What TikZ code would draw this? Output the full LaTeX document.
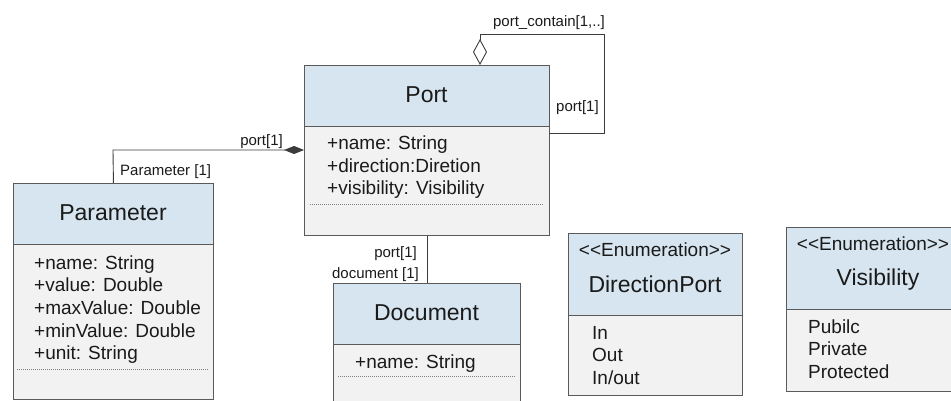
\documentclass[tikz,border=0pt]{standalone}
\usepackage{fontspec}
\setmainfont{Liberation Sans}
\usetikzlibrary{arrows.meta}
\definecolor{headblue}{HTML}{D6E5EF}
\definecolor{bodygrey}{HTML}{F2F2F2}
\definecolor{edge}{HTML}{5A5A5A}
\definecolor{ink}{HTML}{1A1A1A}
\tikzset{
  head/.style={draw=edge, fill=headblue, line width=0.9pt, inner sep=0pt, anchor=north west},
  body/.style={draw=edge, fill=bodygrey, line width=0.9pt, inner sep=0pt, anchor=north west},
  title/.style={font=\fontsize{23}{27}\selectfont, text=ink, anchor=base, inner sep=0pt},
  enum/.style={font=\fontsize{19}{22}\selectfont, text=ink, anchor=base, inner sep=0pt},
  attr/.style={font=\fontsize{19}{22}\selectfont, text=ink, anchor=base west, inner sep=0pt},
  lbl/.style={font=\fontsize{15}{18}\selectfont, text=ink, inner sep=0pt},
  sep/.style={draw=gray, line width=0.6pt, dash pattern=on 1pt off 1pt},
  conn/.style={draw=ink!85, line width=0.9pt},
}
\begin{document}
\begin{tikzpicture}[x=1pt, y=-1pt]
\useasboundingbox (0,0) rectangle (951,401);
\clip (0,0) rectangle (951,401);

% Port
\node[head, minimum width=245pt, minimum height=61pt] (porth) at (304,65) {};
\node[body, minimum width=245pt, minimum height=109pt] (portb) at (304,126) {};
\node[title] (portt) at (426.5,103) {Port};
\foreach \t [count=\i] in {{+name: String},{+direction:Diretion},{+visibility: Visibility}}
  \node[attr] (pa\i) at (327,{150+22.5*(\i-1)}) {\t};
\draw[sep] (310,204) -- (544,204);

% Parameter
\node[head, minimum width=200pt, minimum height=61pt] (parh) at (13,183) {};
\node[body, minimum width=200pt, minimum height=155pt] (parb) at (13,244) {};
\node[title] (part) at (113,221) {Parameter};
\foreach \t [count=\i] in {{+name: String},{+value: Double},{+maxValue: Double},{+minValue: Double},{+unit: String}}
  \node[attr] (ra\i) at (34,{269+22.7*(\i-1)}) {\t};
\draw[sep] (17,369) -- (208,369);

% Document
\node[head, minimum width=187pt, minimum height=61pt] (doch) at (333,283) {};
\node[body, minimum width=187pt, minimum height=80pt] (docb) at (333,344) {};
\node[title] (doct) at (426.5,320) {Document};
\node[attr] (da1) at (355,368) {+name: String};
\draw[sep] (338,376) -- (515,376);

% DirectionPort
\node[head, minimum width=174pt, minimum height=82pt] (dirh) at (568,233) {};
\node[body, minimum width=174pt, minimum height=80pt] (dirb) at (568,315) {};
\node[enum] (dire) at (655,256) {<{}<Enumeration>{}>};
\node[title] (dirt) at (655,292) {DirectionPort};
\foreach \t [count=\i] in {In,Out,In/out}
  \node[attr] (di\i) at (592,{339+22.5*(\i-1)}) {\t};

% Visibility
\node[head, minimum width=180pt, minimum height=82pt] (vish) at (786,227) {};
\node[body, minimum width=180pt, minimum height=82pt] (visb) at (786,309) {};
\node[enum] (vise) at (873,250) {<{}<Enumeration>{}>};
\node[title] (vist) at (878,285) {Visibility};
\foreach \t [count=\i] in {Pubilc,Private,Protected}
  \node[attr] (vi\i) at (808,{333+22.5*(\i-1)}) {\t};

% Parameter -- Port (composition)
\coordinate (pj) at (113,150);
\draw[conn, -{Diamond[length=20pt,width=8pt]}] (parh.north) -- (pj) -- (pj -| portb.west);
\node[lbl, anchor=base east] (l1) at (283,146) {port[1]};
\node[lbl, anchor=base west] (l2) at (120,176) {Parameter [1]};

% Port -- Document
\draw[conn] (portb.south) -- (doch.north);
\node[lbl, anchor=base east] (l3) at (417,257) {port[1]};
\node[lbl, anchor=base east] (l4) at (419,278) {document [1]};

% Port self aggregation
\coordinate (s1) at (549,133);
\coordinate (s2) at (604,133);
\coordinate (s3) at (604,34);
\coordinate (s4) at (480,34);
\coordinate (s5) at (480,65);
\draw[conn, -{Diamond[open,length=26pt,width=14pt]}] (s1) -- (s2) -- (s3) -- (s4) -- (s5);
\node[lbl, anchor=base] (l5) at (549,27) {port\_contain[1,..]};
\node[lbl, anchor=base west] (l6) at (556,112) {port[1]};
\end{tikzpicture}
\end{document}
